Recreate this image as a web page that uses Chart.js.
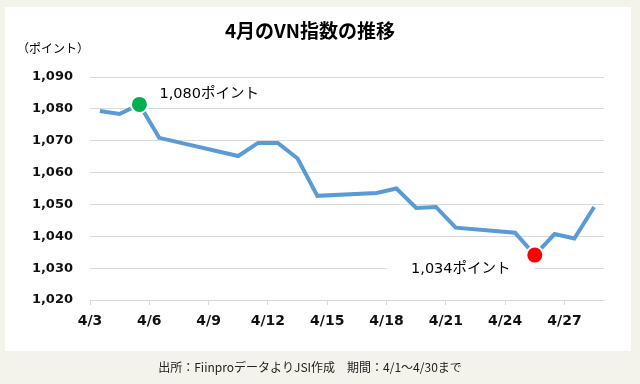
<!DOCTYPE html>
<html><head><meta charset="utf-8">
<script src="https://cdn.jsdelivr.net/npm/chart.js@4.4.0/dist/chart.umd.min.js"></script>
<style>html,body{margin:0;padding:0;background:#f3f2eb;} canvas{display:block;}</style>
</head><body>
<canvas id="c" width="640" height="384"></canvas>
<script>
const chartTitle = '4月のVN指数の推移';
const unitLabel = '（ポイント）';
const footnote = '出所：FiinproデータよりJSI作成　期間：4/1～4/30まで';
const days = [3,4,5,6,10,11,12,13,14,17,18,19,20,21,24,25,26,27,28];
const values = [1079.3,1078.4,1081.4,1070.9,1065.2,1069.3,1069.3,1064.4,1052.7,1053.6,1055.0,1048.9,1049.2,1042.7,1041.1,1034.1,1040.7,1039.3,1049.2];
const tickDays = [3,6,9,12,15,18,21,24,27];
const tickLabels = ['4/3','4/6','4/9','4/12','4/15','4/18','4/21','4/24','4/27'];
const yMin = 1020, yMax = 1090, yStep = 10;
const firstDay = 3, lastDay = 28;
const markDays = [5, 25];
const markValues = [1081.4, 1034.1];
const markColors = ['#00b050', '#ff0000'];
const markTexts = ['1,080ポイント', '1,034ポイント'];

const FONT = "'DejaVu Sans', 'Noto Sans CJK JP', sans-serif";
const JP = "'Noto Sans CJK JP', 'DejaVu Sans', sans-serif";

const decor = {
  id: 'decor',
  beforeDraw(chart) {
    const ctx = chart.ctx;
    ctx.save();
    ctx.fillStyle = '#f3f2eb';
    ctx.fillRect(0, 0, chart.width, chart.height);
    ctx.fillStyle = '#ffffff';
    ctx.fillRect(5, 7, 626, 344);
    ctx.fillStyle = '#000';
    ctx.textAlign = 'center';
    ctx.textBaseline = 'middle';
    ctx.font = "bold 19px " + JP;
    ctx.fillText(chartTitle, 310, 31);
    ctx.textAlign = 'left';
    ctx.font = "12px " + JP;
    ctx.fillText(unitLabel, 17, 48);
    ctx.textAlign = 'center';
    ctx.fillStyle = '#222';
    ctx.font = "12px " + JP;
    ctx.fillText(footnote, 310, 367);
    ctx.restore();
  },
  beforeDatasetsDraw(chart) {
    const ctx = chart.ctx;
    const xs = chart.scales.x, ys = chart.scales.y;
    ctx.save();
    ctx.font = "14.5px " + FONT;
    ctx.fillStyle = '#000';
    ctx.textBaseline = 'middle';
    let px = xs.getPixelForValue(markDays[0]), py = ys.getPixelForValue(markValues[0]);
    ctx.textAlign = 'left';
    ctx.fillText(markTexts[0], px + 20, py - 10);
    px = xs.getPixelForValue(markDays[1]); py = ys.getPixelForValue(markValues[1]);
    const cx = px - 74, cy = py + 14;
    ctx.fillStyle = '#fff';
    ctx.fillRect(cx - 74, cy - 9, 148, 18);
    ctx.fillStyle = '#000';
    ctx.textAlign = 'center';
    ctx.fillText(markTexts[1], cx, cy);
    ctx.restore();
  }
};

new Chart(document.getElementById('c'), {
  type: 'line',
  data: {
    datasets: [
      {
        data: markDays.map((d, i) => ({x: d, y: markValues[i]})),
        showLine: false,
        pointRadius: 8.5,
        pointBorderWidth: 2,
        pointBorderColor: '#ffffff',
        pointBackgroundColor: markColors,
      },
      {
        data: days.map((d, i) => ({x: d, y: values[i]})),
        borderColor: '#5b9bd5',
        borderWidth: 4,
        pointRadius: 0,
        tension: 0,
        borderJoinStyle: 'miter',
        fill: false,
      }
    ]
  },
  options: {
    responsive: false,
    animation: false,
    devicePixelRatio: 1,
    layout: { padding: { left: 0, right: 36, top: 77, bottom: 0 } },
    plugins: { legend: { display: false }, tooltip: { enabled: false }, title: { display: false } },
    scales: {
      x: {
        type: 'linear',
        min: firstDay - 0.5,
        max: lastDay + 0.5,
        afterBuildTicks(scale) { scale.ticks = tickDays.map(d => ({ value: d - 0.5 })); },
        afterFit(scale) { scale.height = 84; },
        grid: { drawOnChartArea: false, drawTicks: true, tickLength: 5, color: '#d9d9d9' },
        border: { display: true, color: '#d9d9d9' },
        ticks: {
          padding: 8,
          maxRotation: 0,
          autoSkip: false,
          color: '#111',
          font: { family: FONT, size: 14, weight: 'bold' },
          callback(v) { const i = tickDays.indexOf(v + 0.5); return i >= 0 ? tickLabels[i] : ''; }
        }
      },
      y: {
        min: yMin, max: yMax,
        afterFit(scale) { scale.width = 90; },
        grid: { drawTicks: false, color: '#d9d9d9' },
        border: { display: false },
        ticks: {
          stepSize: yStep,
          padding: 17,
          color: '#111',
          font: { family: FONT, size: 13, weight: 'bold' },
          callback(v) { return v.toLocaleString('en-US'); }
        }
      }
    }
  },
  plugins: [decor]
});
</script>
</body></html>
